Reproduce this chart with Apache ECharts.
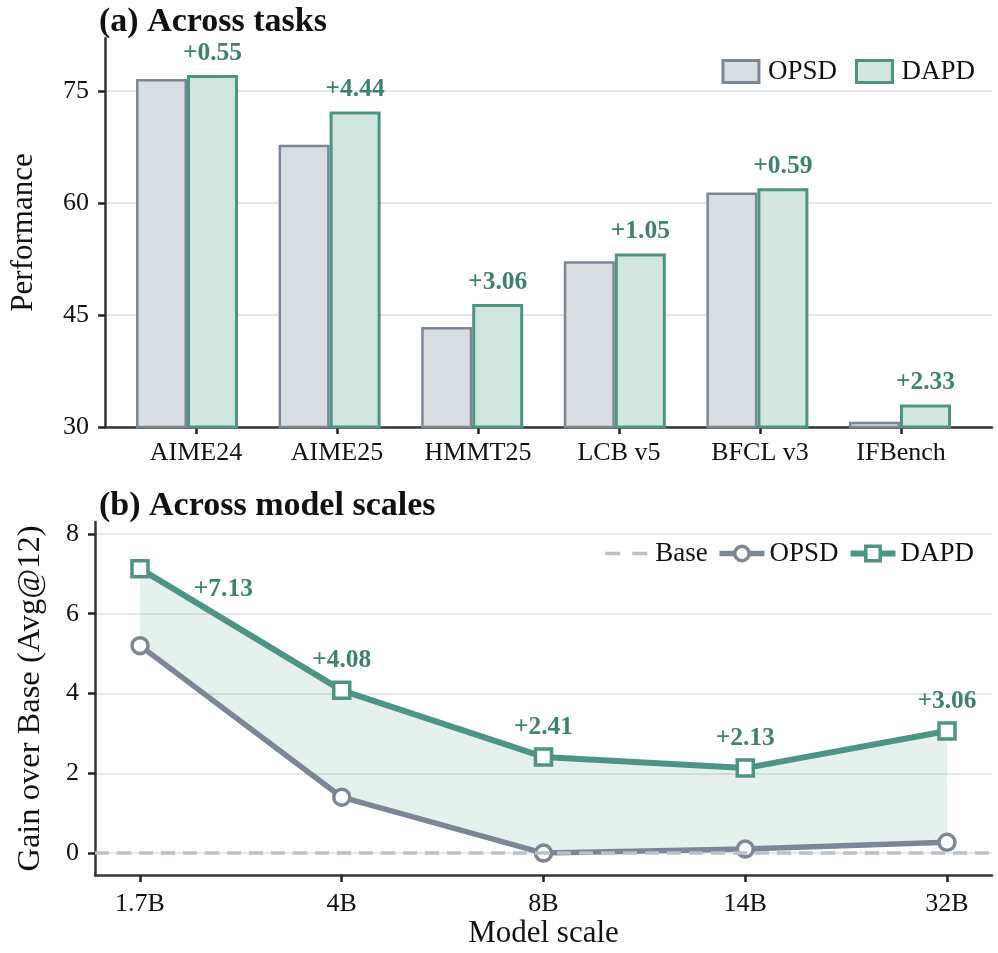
<!DOCTYPE html>
<html>
<head>
    <meta charset="UTF-8">
    <title>OPSD vs DAPD</title>
    <script src="https://cdn.jsdelivr.net/npm/echarts@6/dist/echarts.min.js"></script>
    <style>
        body { margin: 0; background: #fff; }
    </style>
</head>
<body>
<div id="chart" style="width:998px; height:953px;"></div>
<script>
    // (a) 各任务表现
    var tasks = ['AIME24', 'AIME25', 'HMMT25', 'LCB v5', 'BFCL v3', 'IFBench'];
    var opsdTask = [76.6, 67.8, 43.4, 52.2, 61.4, 30.7];
    var dapdTask = [77.15, 72.24, 46.46, 53.25, 61.99, 33.03];
    var taskGain = ['+0.55', '+4.44', '+3.06', '+1.05', '+0.59', '+2.33'];
    var perfTicks = [30, 45, 60, 75];

    // (b) 各模型规模增益
    var scales = ['1.7B', '4B', '8B', '14B', '32B'];
    var opsdGain = [5.2, 1.4, 0.0, 0.1, 0.27];
    var dapdGain = [7.13, 4.08, 2.41, 2.13, 3.06];
    var gainTicks = [0, 2, 4, 6, 8];

    var FONT = 'Liberation Serif';
    var GREY = '#7d8694';
    var TEAL = '#4c9483';
    var TEAL_TXT = '#3e8171';
    var GRID = '#e3e7eb';
    var BASE = '#b9c0c8';

    var chart = echarts.init(document.getElementById('chart'), null, {renderer: 'canvas'});

    function idx(arr) {
        return arr.map(function (_, i) { return i; });
    }
    function pairs(arr) {
        return arr.map(function (v, i) { return [i, v]; });
    }

    var baseX = {
        type: 'value',
        splitLine: {show: false},
        axisLine: {show: true, onZero: false, lineStyle: {color: '#333', width: 2.5}},
        axisTick: {show: true, length: 7, lineStyle: {color: '#222', width: 2.5}},
        axisLabel: {color: '#111', fontFamily: FONT, fontSize: 26}
    };
    var baseY = {
        type: 'value',
        nameLocation: 'middle',
        nameTextStyle: {color: '#111', fontFamily: FONT, fontSize: 31},
        splitLine: {show: true, lineStyle: {color: GRID, width: 2}},
        axisLine: {show: true, onZero: false, lineStyle: {color: '#333', width: 2.5}},
        axisTick: {show: true, length: 7, lineStyle: {color: '#222', width: 2.5}},
        axisLabel: {color: '#111', fontFamily: FONT, fontSize: 26, margin: 16}
    };

    var option = {
        backgroundColor: '#fff',
        animation: false,
        title: [
            {
                text: '(a) Across tasks', left: 94, top: 0,
                textStyle: {fontFamily: FONT, fontSize: 34, fontWeight: 'bold', color: '#111'}
            },
            {
                text: '(b) Across model scales', left: 94, top: 484,
                textStyle: {fontFamily: FONT, fontSize: 34, fontWeight: 'bold', color: '#111'}
            }
        ],
        legend: [
            {
                data: ['OPSD', 'DAPD'],
                right: 18, top: 53,
                icon: 'rect',
                itemWidth: 36, itemHeight: 22, itemGap: 18,
                itemStyle: {borderWidth: 3},
                textStyle: {fontFamily: FONT, fontSize: 27, color: '#111', padding: [0, 0, 0, 4]}
            },
            {
                data: [
                    {name: 'b:Base', itemStyle: {opacity: 0}, lineStyle: {width: 3.5, type: [15, 12]}},
                    {name: 'b:OPSD', lineStyle: {width: 5.5}, itemStyle: {borderWidth: 3.5}},
                    {name: 'b:DAPD', lineStyle: {width: 6}, itemStyle: {borderWidth: 3.5}}
                ],
                right: 19, top: 535,
                itemWidth: 45, itemHeight: 18, itemGap: 9,
                formatter: function (name) { return name.replace('b:', ''); },
                textStyle: {fontFamily: FONT, fontSize: 27, color: '#111'}
            }
        ],
        grid: [
            {left: 95, right: 6, top: 38, height: 389},
            {left: 95, right: 6, top: 522, height: 353},
            // 柱子所用网格 (类目带宽与上方坐标轴对齐)
            {left: 115.7, right: 26.7, top: 38, height: 389}
        ],
        xAxis: [
            echarts.util.merge({
                gridIndex: 0, min: -0.645, max: 5.645,
                axisTick: {customValues: idx(tasks)},
                axisLabel: {
                    customValues: idx(tasks), margin: 13,
                    formatter: function (v) { return tasks[Math.round(v)]; }
                }
            }, baseX, false),
            echarts.util.merge({
                gridIndex: 1, min: -0.223, max: 4.223,
                name: 'Model scale', nameLocation: 'middle', nameGap: 42,
                nameTextStyle: {color: '#111', fontFamily: FONT, fontSize: 31},
                axisTick: {customValues: idx(scales)},
                axisLabel: {
                    customValues: idx(scales), margin: 16,
                    formatter: function (v) { return scales[Math.round(v)]; }
                }
            }, baseX, false),
            {gridIndex: 2, type: 'category', data: tasks, show: false}
        ],
        yAxis: [
            echarts.util.merge({
                gridIndex: 0, min: 30, max: 82.1,
                name: 'Performance', nameGap: 66,
                axisTick: {customValues: perfTicks},
                axisLabel: {customValues: perfTicks}
            }, baseY, false),
            echarts.util.merge({
                gridIndex: 1, min: -0.55, max: 8.3,
                name: 'Gain over Base (Avg@12)', nameGap: 48,
                nameTextStyle: {fontSize: 32.5},
                axisTick: {customValues: gainTicks},
                axisLabel: {customValues: gainTicks}
            }, baseY, false),
            {gridIndex: 2, type: 'value', min: 30, max: 82.1, show: false, splitLine: {show: false}}
        ],
        series: [
            {
                name: 'OPSD', type: 'bar', xAxisIndex: 2, yAxisIndex: 2,
                data: opsdTask,
                barWidth: 51, barGap: '0%',
                itemStyle: {color: '#d8dde2', borderColor: GREY, borderWidth: 2.5}
            },
            {
                name: 'DAPD', type: 'bar', xAxisIndex: 2, yAxisIndex: 2,
                data: dapdTask,
                barWidth: 51, barGap: '0%',
                itemStyle: {color: '#d0e6df', borderColor: TEAL, borderWidth: 3},
                label: {
                    show: true, position: 'top', distance: 9,
                    fontFamily: FONT, fontSize: 25.5, fontWeight: 'bold', color: TEAL_TXT,
                    formatter: function (p) { return taskGain[p.dataIndex]; }
                }
            },
            // 两条线之间的填充
            {
                name: 'fill', type: 'custom', xAxisIndex: 1, yAxisIndex: 1,
                data: [[0, opsdGain[0]]], silent: true, z: 1,
                renderItem: function (params, api) {
                    var pts = [];
                    dapdGain.forEach(function (v, i) { pts.push(api.coord([i, v])); });
                    for (var i = opsdGain.length - 1; i >= 0; i--) {
                        pts.push(api.coord([i, opsdGain[i]]));
                    }
                    return {
                        type: 'polygon',
                        shape: {points: pts},
                        style: {fill: 'rgba(76,148,131,0.14)'}
                    };
                }
            },
            {
                name: 'b:Base', type: 'line', xAxisIndex: 1, yAxisIndex: 1,
                data: [], symbol: 'none',
                itemStyle: {color: BASE},
                lineStyle: {color: BASE, width: 3.5, type: [14, 8]},
                markLine: {
                    silent: true, symbol: 'none', label: {show: false},
                    lineStyle: {color: BASE, width: 3.5, type: [14, 8]},
                    data: [{yAxis: 0}]
                },
                z: 2
            },
            {
                name: 'b:OPSD', type: 'line', xAxisIndex: 1, yAxisIndex: 1,
                data: pairs(opsdGain),
                symbol: 'circle', symbolSize: 16,
                lineStyle: {color: GREY, width: 5.5},
                itemStyle: {color: '#fff', borderColor: GREY, borderWidth: 3.5},
                z: 3
            },
            {
                name: 'b:DAPD', type: 'line', xAxisIndex: 1, yAxisIndex: 1,
                data: pairs(dapdGain).map(function (d, i) {
                    var item = {value: d};
                    if (i === 0) {
                        item.label = {position: 'right', distance: 44, offset: [0, 21]};
                    }
                    return item;
                }),
                symbol: 'rect', symbolSize: 16,
                lineStyle: {color: TEAL, width: 6},
                itemStyle: {color: '#fff', borderColor: TEAL, borderWidth: 3.5},
                label: {
                    show: true, position: 'top', distance: 7,
                    fontFamily: FONT, fontSize: 25.5, fontWeight: 'bold', color: TEAL_TXT,
                    formatter: function (p) { return '+' + dapdGain[p.dataIndex].toFixed(2); }
                },
                z: 4
            }
        ]
    };

    chart.setOption(option);
</script>
</body>
</html>
